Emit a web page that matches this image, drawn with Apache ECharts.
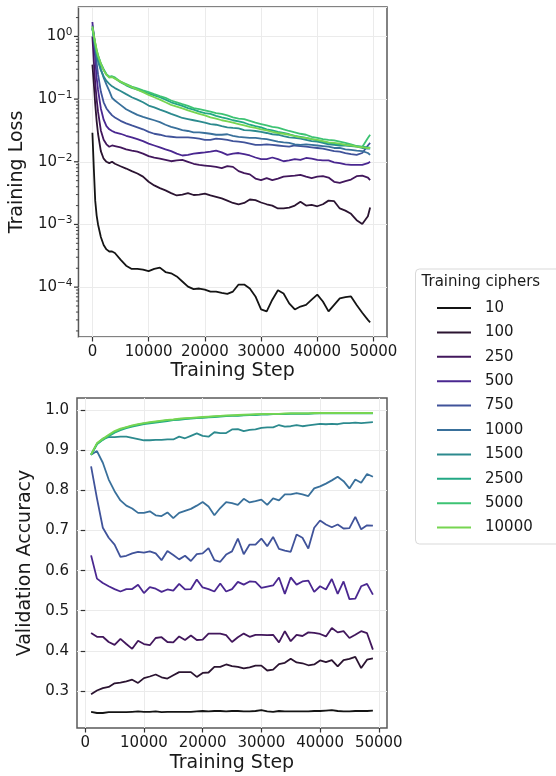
<!DOCTYPE html>
<html>
<head>
<meta charset="utf-8">
<script src="https://cdn.jsdelivr.net/npm/echarts@6/dist/echarts.min.js"></script>
<style>
  html, body { margin: 0; padding: 0; background: #fff; }
  #chart { width: 556px; height: 776px; }
</style>
</head>
<body>
<div id="chart"></div>
<script>
// ---- data -------------------------------------------------------------
const cipherCounts = ['10', '100', '250', '500', '750', '1000', '1500', '2500', '5000', '10000'];

// training steps at which the (smoothed) training loss is sampled
const lossSteps = [0, 250, 500, 750, 1000, 1500, 2000, 2500, 3000, 3500, 4000,
  5000, 6000, 7000, 8000, 9000, 10000, 11000, 12000, 13000, 14000, 15000, 16000, 17000,
  18000, 19000, 20000, 21000, 22000, 23000, 24000, 25000, 26000, 27000, 28000, 29000,
  30000, 31000, 32000, 33000, 34000, 35000, 36000, 37000, 38000, 39000, 40000, 41000,
  42000, 43000, 44000, 45000, 46000, 47000, 48000, 49000, 49400];

const loss10 = [2.9e-2, 7.9e-3, 2.4e-3, 1.4e-3, 1.0e-3, 6.3e-4, 4.7e-4, 4.0e-4, 3.7e-4, 3.7e-4, 3.5e-4,
  2.75e-4, 2.2e-4, 1.95e-4, 1.95e-4, 1.9e-4, 1.8e-4, 1.95e-4, 2.05e-4, 1.74e-4, 1.66e-4, 1.48e-4,
  1.23e-4, 1.02e-4, 9.3e-5, 9.5e-5, 9.1e-5, 8.5e-5, 8.5e-5, 8.1e-5, 7.8e-5, 8.5e-5, 1.1e-4, 1.1e-4,
  9.5e-5, 7.1e-5, 4.4e-5, 4.1e-5, 6.3e-5, 8.9e-5, 7.9e-5, 5.5e-5, 4.4e-5, 4.9e-5, 5.2e-5, 6.3e-5,
  7.6e-5, 5.9e-5, 4.1e-5, 5.2e-5, 6.6e-5, 6.9e-5, 7.1e-5, 5.2e-5, 3.9e-5, 3.0e-5, 2.75e-5];
const loss100 = [0.355, 0.178, 0.083, 0.045, 0.028, 0.0148, 0.0112, 0.0100, 0.0095, 0.0100, 0.0093,
  0.0085, 0.0078, 0.0071, 0.0065, 0.0058, 0.0048, 0.0042, 0.0038, 0.0035, 0.00316, 0.0029, 0.0030,
  0.00316, 0.00295, 0.0030, 0.0031, 0.0029, 0.00275, 0.0026, 0.0024, 0.0022, 0.0021, 0.0022, 0.0025,
  0.00245, 0.00224, 0.0021, 0.0020, 0.0018, 0.0018, 0.00186, 0.0020, 0.0023, 0.0020, 0.00205, 0.00195,
  0.0021, 0.0024, 0.00235, 0.0018, 0.00166, 0.00148, 0.00117, 0.00102, 0.00135, 0.00186];
const loss250 = [1.0, 0.40, 0.178, 0.10, 0.063, 0.0316, 0.0224, 0.019, 0.0174, 0.0182, 0.0178,
  0.017, 0.0158, 0.0151, 0.0145, 0.0135, 0.0123, 0.0117, 0.0112, 0.0107, 0.0102, 0.0105, 0.0107,
  0.0100, 0.0093, 0.0089, 0.0087, 0.0085, 0.0083, 0.0079, 0.0085, 0.0083, 0.0071, 0.0066, 0.0063,
  0.0054, 0.0051, 0.0055, 0.0051, 0.0054, 0.0058, 0.0059, 0.0060, 0.0062, 0.0058, 0.0055, 0.0058,
  0.0059, 0.0056, 0.0048, 0.0046, 0.0049, 0.0052, 0.0059, 0.0060, 0.0056, 0.0051];
const loss500 = [1.7, 0.89, 0.44, 0.22, 0.14, 0.071, 0.047, 0.037, 0.033, 0.031, 0.0295,
  0.028, 0.026, 0.0245, 0.023, 0.0214, 0.0195, 0.0182, 0.017, 0.0158, 0.0148, 0.0135, 0.0126,
  0.0129, 0.0135, 0.0138, 0.0141, 0.0145, 0.0151, 0.0141, 0.0129, 0.0135, 0.0138, 0.0132, 0.0126,
  0.0117, 0.011, 0.011, 0.0117, 0.011, 0.0102, 0.0105, 0.011, 0.0107, 0.0115, 0.0112, 0.0107,
  0.0105, 0.0105, 0.0098, 0.0095, 0.0091, 0.0089, 0.0089, 0.0089, 0.0095, 0.0100];
const loss750 = [1.5, 1.12, 0.63, 0.38, 0.25, 0.132, 0.089, 0.071, 0.062, 0.055, 0.051,
  0.045, 0.041, 0.038, 0.0355, 0.033, 0.030, 0.028, 0.027, 0.0257, 0.0251, 0.0245, 0.0245,
  0.0245, 0.024, 0.0234, 0.0224, 0.0224, 0.0234, 0.023, 0.0224, 0.0214, 0.021, 0.0204, 0.0195,
  0.0186, 0.0186, 0.019, 0.0186, 0.0182, 0.0178, 0.0174, 0.0182, 0.0178, 0.0174, 0.017, 0.0166,
  0.0162, 0.0155, 0.0148, 0.0145, 0.0138, 0.0132, 0.0129, 0.0138, 0.0182, 0.020];
const loss1000 = [1.35, 1.0, 0.71, 0.56, 0.45, 0.30, 0.22, 0.17, 0.135, 0.105, 0.095,
  0.081, 0.069, 0.062, 0.056, 0.052, 0.049, 0.046, 0.043, 0.039, 0.036, 0.034, 0.032,
  0.031, 0.0295, 0.0295, 0.0288, 0.028, 0.027, 0.027, 0.0275, 0.026, 0.025, 0.0245, 0.024,
  0.024, 0.0234, 0.023, 0.022, 0.021, 0.0204, 0.020, 0.019, 0.0186, 0.019, 0.0186, 0.0182,
  0.0178, 0.0174, 0.0166, 0.0166, 0.0158, 0.0155, 0.0151, 0.0148, 0.0138, 0.0129];
const loss1500 = [1.4, 0.95, 0.68, 0.50, 0.40, 0.29, 0.23, 0.195, 0.175, 0.16, 0.15,
  0.135, 0.12, 0.107, 0.098, 0.089, 0.079, 0.074, 0.068, 0.063, 0.058, 0.054, 0.050,
  0.048, 0.046, 0.044, 0.042, 0.040, 0.039, 0.037, 0.0355, 0.0347, 0.034, 0.032, 0.0316,
  0.031, 0.030, 0.0288, 0.0275, 0.027, 0.0257, 0.0245, 0.024, 0.0234, 0.0224, 0.0214, 0.021,
  0.020, 0.019, 0.0186, 0.0182, 0.0182, 0.0178, 0.0174, 0.0166, 0.0162, 0.0162];
const loss2500 = [1.35, 1.02, 0.77, 0.60, 0.50, 0.37, 0.30, 0.25, 0.228, 0.228, 0.215,
  0.186, 0.166, 0.151, 0.141, 0.132, 0.123, 0.115, 0.107, 0.098, 0.089, 0.083, 0.078,
  0.072, 0.068, 0.063, 0.060, 0.058, 0.054, 0.051, 0.049, 0.046, 0.044, 0.042, 0.039,
  0.037, 0.0355, 0.033, 0.0316, 0.030, 0.0288, 0.0275, 0.026, 0.025, 0.024, 0.023, 0.022,
  0.021, 0.020, 0.0195, 0.019, 0.0186, 0.0182, 0.0178, 0.0174, 0.017, 0.0166];
const loss5000 = [1.3, 1.0, 0.75, 0.58, 0.48, 0.36, 0.29, 0.245, 0.225, 0.232, 0.222,
  0.19, 0.174, 0.158, 0.148, 0.138, 0.129, 0.120, 0.112, 0.105, 0.095, 0.089, 0.083,
  0.078, 0.072, 0.069, 0.066, 0.063, 0.060, 0.058, 0.055, 0.051, 0.049, 0.048, 0.045,
  0.042, 0.040, 0.038, 0.036, 0.035, 0.033, 0.031, 0.0295, 0.028, 0.027, 0.025, 0.024,
  0.023, 0.0224, 0.022, 0.021, 0.020, 0.019, 0.0178, 0.0172, 0.024, 0.027];
const loss10000 = [1.45, 1.05, 0.80, 0.62, 0.50, 0.37, 0.29, 0.245, 0.22, 0.225, 0.212,
  0.19, 0.17, 0.155, 0.141, 0.129, 0.117, 0.107, 0.098, 0.089, 0.081, 0.076, 0.071,
  0.066, 0.062, 0.058, 0.055, 0.051, 0.049, 0.046, 0.044, 0.042, 0.040, 0.038, 0.036,
  0.0347, 0.033, 0.0316, 0.030, 0.0288, 0.028, 0.027, 0.0257, 0.0245, 0.024, 0.023, 0.0224,
  0.0214, 0.0204, 0.020, 0.0195, 0.0186, 0.0182, 0.0174, 0.017, 0.0166, 0.0166];

// validation checkpoints every 1000 steps
const accSteps = [];
for (let s = 1000; s <= 49000; s += 1000) accSteps.push(s);

const acc10 = [0.248, 0.245, 0.245, 0.247, 0.247, 0.247, 0.247, 0.248, 0.249, 0.248,
  0.248, 0.249, 0.247, 0.248, 0.248, 0.248, 0.248, 0.248, 0.249, 0.250,
  0.249, 0.250, 0.250, 0.249, 0.250, 0.250, 0.249, 0.249, 0.250, 0.252,
  0.249, 0.248, 0.250, 0.249, 0.249, 0.249, 0.249, 0.249, 0.250, 0.250,
  0.251, 0.252, 0.250, 0.249, 0.249, 0.250, 0.250, 0.250, 0.251];
const acc100 = [0.292, 0.301, 0.307, 0.310, 0.319, 0.321, 0.324, 0.328, 0.320, 0.332,
  0.336, 0.341, 0.334, 0.331, 0.339, 0.347, 0.347, 0.347, 0.335, 0.345,
  0.346, 0.360, 0.360, 0.366, 0.362, 0.360, 0.356, 0.359, 0.363, 0.363,
  0.351, 0.353, 0.367, 0.370, 0.380, 0.371, 0.369, 0.364, 0.366, 0.376,
  0.372, 0.377, 0.361, 0.377, 0.380, 0.385, 0.357, 0.378, 0.381];
const acc250 = [0.4445, 0.435, 0.435, 0.422, 0.415, 0.430, 0.417, 0.405, 0.425, 0.417,
  0.414, 0.432, 0.434, 0.422, 0.421, 0.436, 0.427, 0.438, 0.427, 0.428,
  0.443, 0.443, 0.443, 0.439, 0.422, 0.434, 0.443, 0.435, 0.440, 0.440,
  0.439, 0.440, 0.421, 0.449, 0.424, 0.440, 0.437, 0.446, 0.445, 0.442,
  0.436, 0.457, 0.446, 0.449, 0.432, 0.440, 0.449, 0.444, 0.403];
const acc500 = [0.638, 0.580, 0.569, 0.561, 0.554, 0.548, 0.554, 0.554, 0.565, 0.544,
  0.559, 0.555, 0.547, 0.553, 0.550, 0.567, 0.553, 0.554, 0.578, 0.558,
  0.554, 0.548, 0.568, 0.548, 0.554, 0.572, 0.565, 0.573, 0.572, 0.557,
  0.560, 0.563, 0.583, 0.542, 0.583, 0.565, 0.573, 0.575, 0.547, 0.561,
  0.553, 0.579, 0.542, 0.573, 0.529, 0.530, 0.561, 0.567, 0.540];
const acc750 = [0.860, 0.780, 0.707, 0.682, 0.665, 0.634, 0.637, 0.643, 0.647, 0.645,
  0.648, 0.643, 0.626, 0.649, 0.639, 0.628, 0.637, 0.624, 0.641, 0.643,
  0.656, 0.626, 0.622, 0.640, 0.648, 0.680, 0.641, 0.665, 0.665, 0.680,
  0.661, 0.684, 0.654, 0.650, 0.647, 0.690, 0.682, 0.655, 0.707, 0.725,
  0.715, 0.708, 0.715, 0.705, 0.706, 0.734, 0.703, 0.713, 0.712];
const acc1000 = [0.889, 0.898, 0.869, 0.827, 0.798, 0.775, 0.762, 0.755, 0.744, 0.744,
  0.748, 0.738, 0.736, 0.745, 0.731, 0.744, 0.749, 0.754, 0.762, 0.771,
  0.760, 0.738, 0.756, 0.771, 0.768, 0.764, 0.779, 0.770, 0.773, 0.777,
  0.764, 0.780, 0.775, 0.790, 0.790, 0.793, 0.790, 0.786, 0.805, 0.810,
  0.817, 0.825, 0.834, 0.823, 0.805, 0.827, 0.819, 0.841, 0.834];
const acc1500 = [0.889, 0.916, 0.929, 0.933, 0.933, 0.934, 0.934, 0.931, 0.928, 0.925,
  0.925, 0.926, 0.926, 0.927, 0.927, 0.934, 0.930, 0.936, 0.942, 0.936,
  0.934, 0.945, 0.943, 0.943, 0.952, 0.953, 0.948, 0.951, 0.952, 0.956,
  0.957, 0.957, 0.963, 0.959, 0.960, 0.963, 0.960, 0.962, 0.964, 0.966,
  0.965, 0.966, 0.965, 0.968, 0.968, 0.969, 0.968, 0.969, 0.970];
const acc2500 = [0.889, 0.915, 0.926, 0.935, 0.944, 0.950, 0.955, 0.959, 0.962, 0.965,
  0.967, 0.969, 0.971, 0.973, 0.975, 0.976, 0.978, 0.979, 0.980, 0.981,
  0.982, 0.983, 0.984, 0.985, 0.986, 0.986, 0.987, 0.988, 0.988, 0.989,
  0.989, 0.990, 0.990, 0.990, 0.991, 0.991, 0.991, 0.991, 0.992, 0.992,
  0.992, 0.992, 0.992, 0.992, 0.992, 0.992, 0.992, 0.992, 0.992];
const acc5000 = [0.889, 0.916, 0.927, 0.937, 0.946, 0.952, 0.957, 0.961, 0.964, 0.967,
  0.969, 0.971, 0.973, 0.975, 0.976, 0.978, 0.979, 0.980, 0.981, 0.982,
  0.983, 0.984, 0.985, 0.986, 0.987, 0.987, 0.988, 0.989, 0.989, 0.990,
  0.990, 0.991, 0.991, 0.991, 0.992, 0.992, 0.992, 0.992, 0.992, 0.993,
  0.993, 0.993, 0.993, 0.993, 0.993, 0.993, 0.993, 0.993, 0.993];
const acc10000 = [0.889, 0.918, 0.929, 0.939, 0.948, 0.954, 0.958, 0.962, 0.965, 0.968,
  0.970, 0.972, 0.974, 0.976, 0.977, 0.979, 0.980, 0.981, 0.982, 0.983,
  0.984, 0.985, 0.986, 0.987, 0.987, 0.988, 0.989, 0.989, 0.990, 0.990,
  0.991, 0.991, 0.991, 0.992, 0.992, 0.992, 0.992, 0.992, 0.993, 0.993,
  0.993, 0.993, 0.993, 0.993, 0.993, 0.993, 0.993, 0.993, 0.993];

// axis ticks
const stepTicks = [0, 10000, 20000, 30000, 40000, 50000];
const lossMajorTicks = [1e-4, 1e-3, 1e-2, 1e-1, 1];
const accTicks = [0.3, 0.4, 0.5, 0.6, 0.7, 0.8, 0.9, 1.0];

// ---- styling -----------------------------------------------------------
const palette = ['#141414', '#2b1431', '#42175c', '#4a2790', '#40539a',
                 '#39709b', '#2c8a8e', '#22a884', '#3dc373', '#77d551'];
const FONT = 'DejaVu Sans';
const lossRange = { xMin: -2480, xMax: 52400, yMin: 1.6e-5, yMax: 2.95 };
const accRange = { xMin: -1400, xMax: 51400, yMin: 0.2076, yMax: 1.0304 };

const lossSeries = [loss10, loss100, loss250, loss500, loss750, loss1000, loss1500, loss2500, loss5000, loss10000];
const accSeries = [acc10, acc100, acc250, acc500, acc750, acc1000, acc1500, acc2500, acc5000, acc10000];

const zip = (xs, ys) => ys.map((y, i) => [xs[i], y]);

// log-axis tick marks (major at decades, minor at 2..9 x decade)
const logTickMarks = [];
for (let e = -5; e <= 0; e++) {
  for (let m = 1; m <= 9; m++) {
    const v = m * Math.pow(10, e);
    if (v >= lossRange.yMin && v <= lossRange.yMax) {
      const isMajor = lossMajorTicks.some(t => Math.abs(t - v) < v * 1e-9);
      logTickMarks.push([lossRange.xMin, v, isMajor ? 1 : 0]);
    }
  }
}

const supDigits = (e) => (e < 0 ? '\u2212' + (-e) : String(e));

const commonAxisLabel = { fontFamily: FONT, fontSize: 15, color: '#1a1a1a' };
const gridLine = { show: true, lineStyle: { color: '#ebebeb', width: 1 } };
const tickStyle = { show: true, length: 4.5, lineStyle: { color: '#333', width: 1.2 } };

const series = [];
cipherCounts.forEach((name, i) => {
  series.push({
    name, type: 'line', xAxisIndex: 0, yAxisIndex: 0,
    data: zip(lossSteps, lossSeries[i]), showSymbol: false, symbol: 'none',
    lineStyle: { width: 1.8, color: palette[i] }, itemStyle: { color: palette[i] },
    animation: false, z: 3 + i * 0.01
  });
  series.push({
    name, type: 'line', xAxisIndex: 1, yAxisIndex: 1,
    data: zip(accSteps, accSeries[i]), showSymbol: false, symbol: 'none',
    lineStyle: { width: 1.8, color: palette[i] }, itemStyle: { color: palette[i] },
    animation: false, z: 3 + i * 0.01
  });
});

series.push({
  name: 'logTicks', type: 'custom', xAxisIndex: 0, yAxisIndex: 0,
  data: logTickMarks, clip: false, silent: true, animation: false,
  encode: { x: 0, y: 1 },
  renderItem(params, api) {
    const p = api.coord([api.value(0), api.value(1)]);
    const major = api.value(2) === 1;
    const len = major ? 4.5 : 2.5;
    return {
      type: 'line',
      shape: { x1: p[0] - len, y1: p[1], x2: p[0], y2: p[1] },
      style: { stroke: '#333', lineWidth: major ? 1.2 : 0.9 }
    };
  }
});

const option = {
  backgroundColor: '#fff',
  animation: false,
  color: palette,
  grid: [
    { left: 77, top: 7, width: 310, height: 330, show: true, borderColor: '#595959', borderWidth: 1.5, backgroundColor: 'transparent' },
    { left: 77, top: 398, width: 310, height: 330, show: true, borderColor: '#595959', borderWidth: 1.5, backgroundColor: 'transparent' }
  ],
  xAxis: [
    {
      type: 'value', gridIndex: 0, min: lossRange.xMin, max: lossRange.xMax,
      name: 'Training Step', nameLocation: 'middle', nameGap: 25,
      nameTextStyle: { fontFamily: FONT, fontSize: 19, color: '#1a1a1a' },
      axisLine: { show: false },
      axisTick: Object.assign({ customValues: stepTicks }, tickStyle),
      axisLabel: Object.assign({ customValues: stepTicks, margin: 8, formatter: (v) => String(v) }, commonAxisLabel),
      splitLine: gridLine
    },
    {
      type: 'value', gridIndex: 1, min: accRange.xMin, max: accRange.xMax,
      name: 'Training Step', nameLocation: 'middle', nameGap: 26,
      nameTextStyle: { fontFamily: FONT, fontSize: 19, color: '#1a1a1a' },
      axisLine: { show: false },
      axisTick: Object.assign({ customValues: stepTicks }, tickStyle),
      axisLabel: Object.assign({ customValues: stepTicks, margin: 8, formatter: (v) => String(v) }, commonAxisLabel),
      splitLine: gridLine
    }
  ],
  yAxis: [
    {
      type: 'log', logBase: 10, gridIndex: 0, min: lossRange.yMin, max: lossRange.yMax,
      name: 'Training Loss', nameLocation: 'middle', nameGap: 50,
      nameTextStyle: { fontFamily: FONT, fontSize: 19, color: '#1a1a1a' },
      axisLine: { show: false },
      axisTick: { show: false },
      axisLabel: Object.assign({
        margin: 6, showMinLabel: false, showMaxLabel: false,
        formatter: (v) => {
          const e = Math.round(Math.log10(v));
          if (Math.abs(Math.log10(v) - e) > 1e-6) return '';
          return '{b|10}{s|' + supDigits(e) + '}';
        },
        rich: {
          b: { fontFamily: FONT, fontSize: 15, lineHeight: 19, color: '#1a1a1a' },
          s: { fontFamily: FONT, fontSize: 10.5, lineHeight: 11, verticalAlign: 'top', color: '#1a1a1a' }
        }
      }, commonAxisLabel),
      splitLine: gridLine
    },
    {
      type: 'value', gridIndex: 1, min: accRange.yMin, max: accRange.yMax,
      name: 'Validation Accuracy', nameLocation: 'middle', nameGap: 38,
      nameTextStyle: { fontFamily: FONT, fontSize: 19, color: '#1a1a1a' },
      axisLine: { show: false },
      axisTick: Object.assign({ customValues: accTicks }, tickStyle),
      axisLabel: Object.assign({ customValues: accTicks, margin: 8, formatter: (v) => v.toFixed(1) }, commonAxisLabel),
      splitLine: gridLine
    }
  ],
  legend: {
    data: cipherCounts,
    orient: 'vertical',
    left: 437, top: 300.5,
    padding: 0,
    icon: 'rect',
    itemWidth: 34, itemHeight: 2, itemGap: 9.4,
    textStyle: { fontFamily: FONT, fontSize: 15, color: '#1a1a1a', padding: [0, 0, 0, 9] },
    selectedMode: false
  },
  graphic: [
    {
      type: 'rect', left: 415, top: 268.5, z: 0,
      shape: { width: 170, height: 275, r: 4 },
      style: { fill: '#fff', stroke: '#d9d9d9', lineWidth: 1 }
    },
    {
      type: 'text', left: 421.5, top: 274.5, z: 1,
      style: { text: 'Training ciphers', fontFamily: FONT, fontSize: 15, fill: '#1a1a1a' }
    }
  ],
  series
};

const chart = echarts.init(document.getElementById('chart'), null, { renderer: 'canvas' });
chart.setOption(option);
</script>
</body>
</html>
